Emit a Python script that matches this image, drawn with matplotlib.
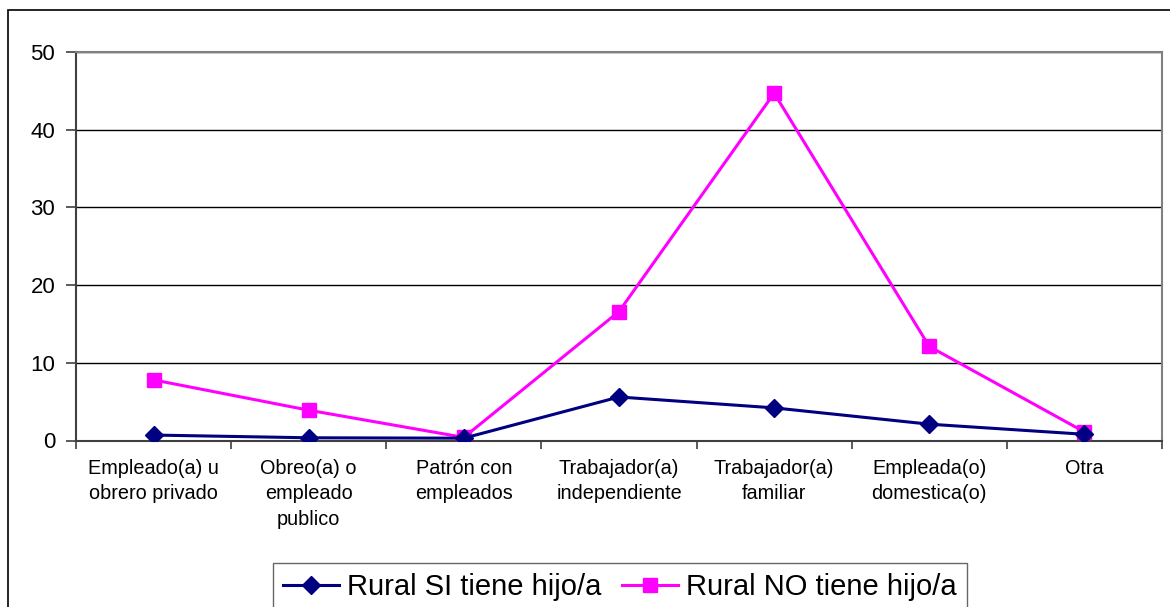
import matplotlib
matplotlib.use("Agg")
import matplotlib.pyplot as plt
from matplotlib.patches import Rectangle
from matplotlib.ticker import FixedLocator, NullFormatter

plt.rcParams['font.family'] = ['Liberation Sans', 'DejaVu Sans']

categories = [
    "Empleado(a) u\nobrero privado",
    "Obreo(a) o\nempleado\npublico",
    "Patrón con\nempleados",
    "Trabajador(a)\nindependiente",
    "Trabajador(a)\nfamiliar",
    "Empleada(o)\ndomestica(o)",
    "Otra",
]
rural_si = [0.7, 0.35, 0.3, 5.6, 4.2, 2.1, 0.8]
rural_no = [7.8, 3.9, 0.4, 16.6, 44.7, 12.1, 1.1]
series_labels = ["Rural SI tiene hijo/a", "Rural NO tiene hijo/a"]
y_ticks = [0, 10, 20, 30, 40, 50]

W, H = 1170, 607
fig = plt.figure(figsize=(W / 100, H / 100), dpi=100)
fig.patch.set_facecolor("white")

# outer chart frame
fig.patches.append(Rectangle((8 / W, -0.05), 1.2, 1 - 10 / H + 0.05,
                             transform=fig.transFigure, fill=False,
                             edgecolor="black", linewidth=1.2, zorder=0))

ax = fig.add_axes([76 / W, 1 - 440.5 / H, (1162 - 76) / W, (440.5 - 52) / H])

x = [i + 0.5 for i in range(len(categories))]
ax.plot(x, rural_si, color="#000080", linewidth=2.2, marker="D",
        markersize=9, label=series_labels[0], zorder=4)
ax.plot(x, rural_no, color="#FF00FF", linewidth=2.2, marker="s",
        markersize=10.5, label=series_labels[1], zorder=3)

ax.set_xlim(0, len(categories))
ax.set_ylim(0, 50)
ax.set_yticks(y_ticks)
ax.yaxis.grid(True, color="black", linewidth=1.0)
ax.set_axisbelow(True)

# ticks sit on category boundaries, labels at category centres
ax.xaxis.set_major_locator(FixedLocator(range(len(categories) + 1)))
ax.xaxis.set_major_formatter(NullFormatter())
ax.xaxis.set_minor_locator(FixedLocator(x))
ax.set_xticklabels(categories, minor=True, fontsize=14.3, linespacing=1.45,
                   va="top")
ax.tick_params(axis="x", which="major", length=6, width=1.2, color="#404040",
               direction="out")
ax.tick_params(axis="x", which="minor", length=0, pad=13)
ax.tick_params(axis="y", length=7, width=1.2, color="#404040",
               direction="out", labelsize=16, pad=8)

for side in ("left", "bottom"):
    ax.spines[side].set_color("#404040")
    ax.spines[side].set_linewidth(1.5)
for side in ("top", "right"):
    ax.spines[side].set_color("#808080")
    ax.spines[side].set_linewidth(1.5)

leg = fig.legend(loc="upper left", bbox_to_anchor=(273 / W, 1 - 563 / H),
                 ncol=2, fontsize=21, frameon=True, fancybox=False,
                 edgecolor="#404040", handlelength=1.9, columnspacing=0.7,
                 handletextpad=0.3, borderpad=0.35, borderaxespad=0)
leg.get_frame().set_linewidth(1.0)

fig.savefig("out.png", dpi=100, facecolor="white")
